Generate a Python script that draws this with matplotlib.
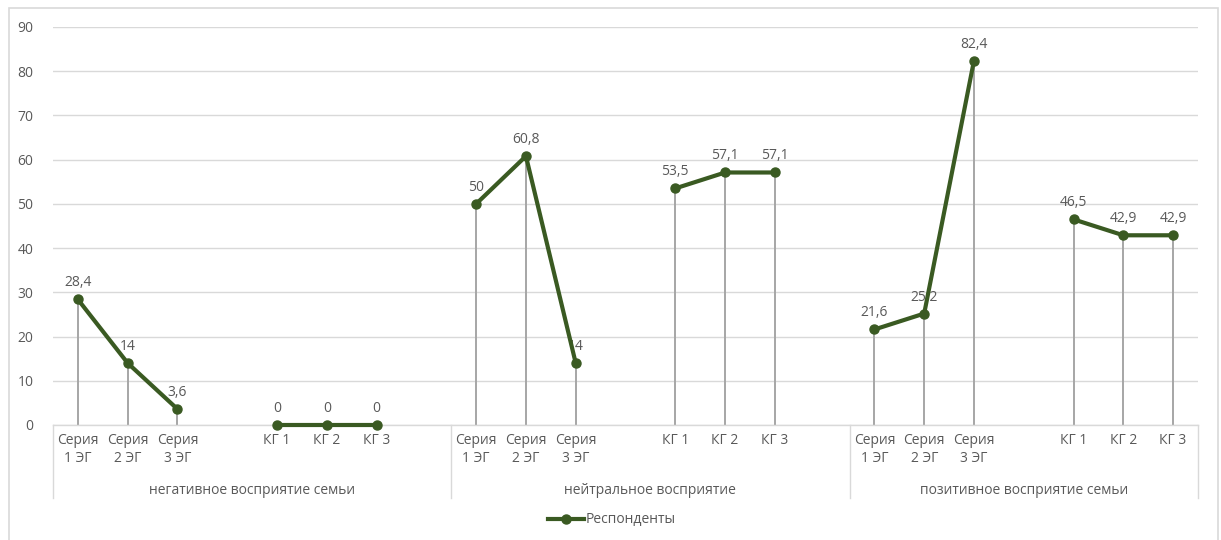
import numpy as np
import matplotlib
matplotlib.use("Agg")
import matplotlib.pyplot as plt
from matplotlib.lines import Line2D
from matplotlib.patches import Rectangle

plt.rcParams['font.family'] = ['Open Sans', 'DejaVu Sans']

# Category slots (empty strings are spacer slots between clusters)
tick_labels = [
    "Серия\n1 ЭГ", "Серия\n2 ЭГ", "Серия\n3 ЭГ", "", "КГ 1", "КГ 2", "КГ 3", "",
    "Серия\n1 ЭГ", "Серия\n2 ЭГ", "Серия\n3 ЭГ", "", "КГ 1", "КГ 2", "КГ 3", "",
    "Серия\n1 ЭГ", "Серия\n2 ЭГ", "Серия\n3 ЭГ", "", "КГ 1", "КГ 2", "КГ 3",
]
group_labels = ["негативное восприятие семьи", "нейтральное восприятие",
                "позитивное восприятие семьи"]
group_sizes = [8, 8, 7]
values = [
    28.4, 14, 3.6, np.nan, 0, 0, 0, np.nan,
    50, 60.8, 14, np.nan, 53.5, 57.1, 57.1, np.nan,
    21.6, 25.2, 82.4, np.nan, 46.5, 42.9, 42.9,
]
series_name = "Респонденты"

LINE = "#3a5a22"
TXT = "#595959"
GRID = "#d9d9d9"
DROP = "#a6a6a6"
FS = 10

W, H = 1221, 540
fig = plt.figure(figsize=(W / 100, H / 100), dpi=100)

left, right, top, bottom = 53, 1198, 27, 425
ax = fig.add_axes([left / W, 1 - bottom / H, (right - left) / W, (bottom - top) / H])

x = np.arange(len(tick_labels))
y = np.array(values, dtype=float)

ax.set_xlim(-0.5, len(tick_labels) - 0.5)
ax.set_ylim(0, 90)
ax.set_yticks(np.arange(0, 91, 10))
ax.grid(axis='y', color=GRID, linewidth=1)
ax.set_axisbelow(True)
for s in ['top', 'right', 'left']:
    ax.spines[s].set_visible(False)
ax.spines['bottom'].set_color(GRID)
ax.spines['bottom'].set_linewidth(1)
ax.tick_params(axis='y', length=0, pad=14, labelsize=FS, labelcolor=TXT)
ax.tick_params(axis='x', length=0, pad=6, labelsize=FS, labelcolor=TXT)
ax.set_xticks(x)
ax.set_xticklabels(tick_labels, linespacing=1.25)

# Drop lines from each point to the axis
mask = ~np.isnan(y) & (y > 0)
ax.vlines(x[mask], 0, y[mask], color=DROP, linewidth=1.4, zorder=2)

# Series line (NaN breaks the line between clusters)
ax.plot(x, y, color=LINE, linewidth=3, marker='o', markersize=6.5,
        markerfacecolor=LINE, markeredgecolor=LINE, zorder=4, clip_on=False)

# Data labels
for xi, yi in zip(x, y):
    if np.isnan(yi):
        continue
    txt = f"{yi:g}".replace('.', ',')
    ax.annotate(txt, (xi, yi), xytext=(0, 6.5), textcoords='offset points',
                ha='center', va='bottom', fontsize=FS, color=TXT, zorder=3)

# Group axis: separators and group names
group_bottom = -(498 - bottom) / (bottom - top)
edges = [-0.5]
for n in group_sizes:
    edges.append(edges[-1] + n)
for e in edges:
    ax.plot([e, e], [0, group_bottom], color=GRID, linewidth=1,
            transform=ax.get_xaxis_transform(), clip_on=False)
label_y = -(490 - bottom) / (bottom - top)
for i, name in enumerate(group_labels):
    cx = (edges[i] + edges[i + 1]) / 2
    ax.text(cx, label_y, name, transform=ax.get_xaxis_transform(),
            ha='center', va='center', fontsize=FS, color=TXT)

# Legend
handle = Line2D([0], [0], color=LINE, linewidth=3, marker='o', markersize=6.5)
fig.legend([handle], [series_name], loc='center', bbox_to_anchor=(612 / W, 1 - 520 / H),
           frameon=False, fontsize=FS, labelcolor=TXT, handlelength=2.6,
           handletextpad=0.1)

# Chart frame (bottom edge runs past the canvas)
fig.patches.append(Rectangle((9 / W, -10 / H), (1218 - 9) / W, (532 + 10) / H,
                             transform=fig.transFigure, fill=False,
                             edgecolor=GRID, linewidth=1.2, clip_on=False))

fig.savefig("out.png", dpi=100)
